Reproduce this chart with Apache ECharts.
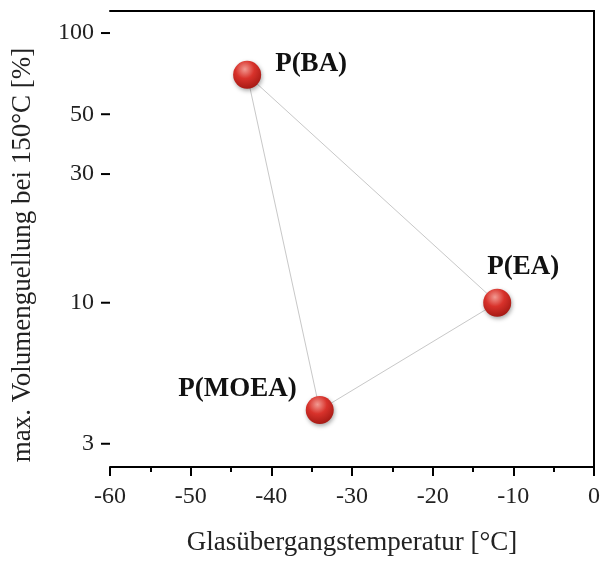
<!DOCTYPE html>
<html><head><meta charset="utf-8">
<script src="https://cdn.jsdelivr.net/npm/echarts@6/dist/echarts.min.js"></script>
<style>html,body{margin:0;padding:0;background:#fff}#c{width:603px;height:561px}</style>
</head><body><div id="c"></div>
<script>
const names = ['P(BA)', 'P(EA)', 'P(MOEA)'];
const glassTemp = [-43, -12, -34];
const swelling = [70, 10, 4];
const yTickValues = [3, 10, 30, 50, 100];
const labelOffsets = [[28, -11], [26, -36], [-23, -21]];
const labelAligns = ['left', 'center', 'right'];

const font = "'Liberation Serif', 'DejaVu Serif', serif";
const pts = names.map((n, i) => ({
  value: [glassTemp[i], swelling[i]],
  name: n,
  label: {
    show: true, formatter: n, position: 'inside', align: labelAligns[i],
    offset: labelOffsets[i], fontFamily: font, fontWeight: 'bold', fontSize: 27, color: '#111'
  }
}));
const tri = [0, 1, 2, 0].map(i => [glassTemp[i], swelling[i]]);
const xMin = -60;

const chart = echarts.init(document.getElementById('c'));
chart.setOption({
  animation: false,
  backgroundColor: '#fff',
  grid: { left: 110, right: 9, top: 11, bottom: 91 },
  xAxis: [{
    type: 'value', min: xMin, max: 0, interval: 10,
    name: 'Glasübergangstemperatur [°C]', nameLocation: 'middle', nameGap: 62,
    nameTextStyle: { fontFamily: font, fontSize: 27, color: '#222' },
    axisLine: { lineStyle: { color: '#000', width: 2 } },
    axisTick: { show: true, length: 9, lineStyle: { color: '#000', width: 2 } },
    minorTick: { show: true, splitNumber: 2, length: 5, lineStyle: { color: '#000', width: 2 } },
    axisLabel: { fontFamily: font, fontSize: 24, color: '#222', margin: 18 },
    splitLine: { show: false }
  }, {
    type: 'value', position: 'top', min: xMin, max: 0,
    axisLine: { show: true, lineStyle: { color: '#000', width: 2 } },
    axisTick: { show: false }, axisLabel: { show: false }, splitLine: { show: false }
  }],
  yAxis: [{
    type: 'log', logBase: 10, min: 2.46, max: 120.7,
    name: 'max. Volumenguellung bei 150°C [%]', nameLocation: 'middle', nameGap: 74,
    nameTextStyle: { fontFamily: font, fontSize: 27, color: '#222', padding: [0, 32, 0, 0] },
    axisLine: { show: true, lineStyle: { color: '#000', width: 2 } },
    axisTick: { show: false },
    axisLabel: { fontFamily: font, fontSize: 24, color: '#222', margin: 16, customValues: yTickValues },
    splitLine: { show: false }, minorTick: { show: false }
  }, {
    type: 'value', position: 'right', min: 0, max: 1,
    axisLine: { show: true, lineStyle: { color: '#000', width: 2 } },
    axisTick: { show: false }, axisLabel: { show: false }, splitLine: { show: false }
  }],
  series: [
    {
      type: 'custom', silent: true, clip: false, z: 5,
      data: yTickValues.map(v => [xMin, v]),
      renderItem: (params, api) => {
        const p = api.coord([api.value(0), api.value(1)]);
        return {
          type: 'line',
          shape: { x1: p[0] - 9, y1: p[1], x2: p[0], y2: p[1] },
          style: { stroke: '#000', lineWidth: 2 }
        };
      }
    },
    {
      type: 'line', data: tri, symbol: 'none', silent: true,
      lineStyle: { color: '#c8c8c8', width: 1 }, z: 1
    },
    {
      type: 'scatter', data: pts, symbolSize: 28, z: 3,
      itemStyle: {
        opacity: 1,
        color: {
          type: 'radial', x: 0.42, y: 0.3, r: 0.75,
          colorStops: [
            { offset: 0, color: '#f29a92' },
            { offset: 0.45, color: '#d8322b' },
            { offset: 1, color: '#a01712' }
          ]
        },
        shadowBlur: 4, shadowColor: 'rgba(0,0,0,0.35)', shadowOffsetX: 1, shadowOffsetY: 2
      }
    }
  ]
});
</script></body></html>
